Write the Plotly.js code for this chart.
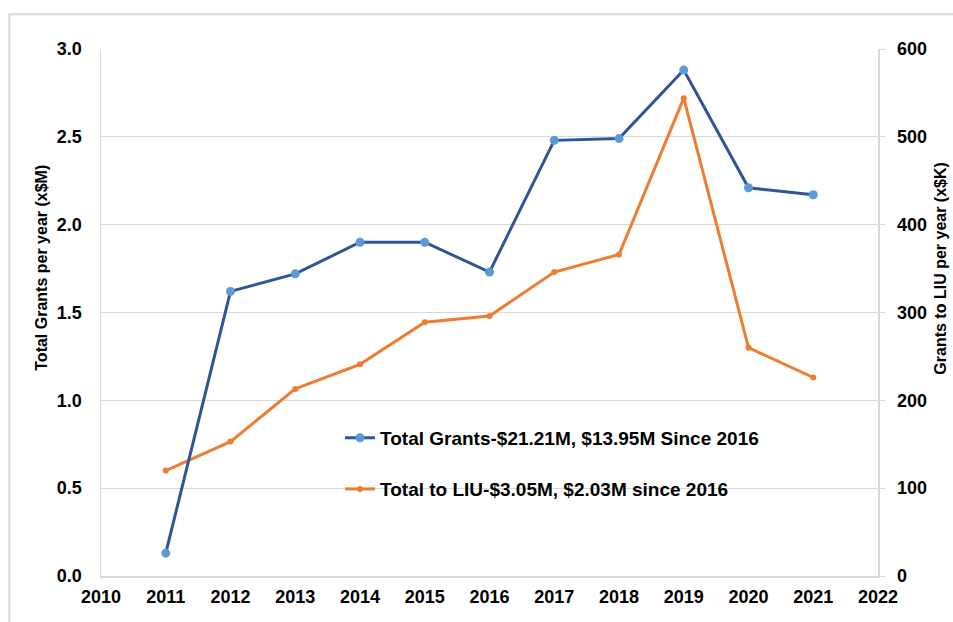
<!DOCTYPE html>
<html>
<head>
<meta charset="utf-8">
<script src="https://cdn.plot.ly/plotly-3.0.1.min.js"></script>
<style>
html,body{margin:0;padding:0;background:#fff;}
#chart{width:953px;height:622px;}
</style>
</head>
<body>
<div id="chart"></div>
<script>
const years = [2011, 2012, 2013, 2014, 2015, 2016, 2017, 2018, 2019, 2020, 2021];
const totalGrants = [0.13, 1.62, 1.72, 1.90, 1.90, 1.73, 2.48, 2.49, 2.88, 2.21, 2.17];
const grantsLIU = [120, 153, 213, 241, 289, 296, 346, 366, 544, 260, 226];
const xTicks = [2010, 2011, 2012, 2013, 2014, 2015, 2016, 2017, 2018, 2019, 2020, 2021, 2022];
const leftTicks = [0, 0.5, 1.0, 1.5, 2.0, 2.5, 3.0];
const leftTickText = ['0.0', '0.5', '1.0', '1.5', '2.0', '2.5', '3.0'];
const rightTicks = [0, 100, 200, 300, 400, 500, 600];
const nameGrants = 'Total Grants-$21.21M, $13.95M Since 2016';
const nameLIU = 'Total to LIU-$3.05M, $2.03M since 2016';
const leftTitle = 'Total Grants per year (x$M)';
const rightTitle = 'Grants to LIU per year (x$K)';

const FONT = 'Arial, "Liberation Sans", sans-serif';
const bold = (size) => ({family: FONT, size: size, color: '#000', weight: 'bold'});

const traces = [
  {
    x: years, y: grantsLIU, name: nameLIU, type: 'scatter', mode: 'lines+markers',
    yaxis: 'y', legend: 'legend2',
    line: {color: '#ED7D31', width: 3},
    marker: {color: '#ED7D31', size: 6}
  },
  {
    x: years, y: totalGrants, name: nameGrants, type: 'scatter', mode: 'lines+markers',
    yaxis: 'y2', legend: 'legend',
    line: {color: '#2F5597', width: 3},
    marker: {color: '#5B9BD5', size: 9}
  }
];

const layout = {
  width: 953, height: 622,
  margin: {l: 101, r: 75, t: 49, b: 46},
  paper_bgcolor: '#fff', plot_bgcolor: '#fff',
  showlegend: true,
  hovermode: false,
  xaxis: {
    range: [2010, 2022], tickvals: xTicks, ticktext: xTicks.map(String),
    showgrid: false, zeroline: false,
    showline: true, linecolor: '#d9d9d9', linewidth: 1.5,
    ticks: '', ticklabelstandoff: 4,
    tickfont: bold(18)
  },
  yaxis: {
    side: 'right', range: [0, 600], tickvals: rightTicks, ticktext: rightTicks.map(String),
    showgrid: true, gridcolor: '#d9d9d9', gridwidth: 1,
    zeroline: false, showline: true, linecolor: '#d9d9d9', linewidth: 1.5,
    ticks: 'outside', ticklen: 6, tickcolor: '#d9d9d9', tickwidth: 1,
    ticklabelstandoff: 8,
    tickfont: bold(18)
  },
  yaxis2: {
    side: 'left', overlaying: 'y', range: [0, 3], tickvals: leftTicks, ticktext: leftTickText,
    showgrid: false, zeroline: false, showline: true, linecolor: '#d9d9d9', linewidth: 1.5,
    ticks: '', ticklabelstandoff: 14,
    tickfont: bold(18)
  },
  legend: {
    x: 0.3076, y: 0.262, xanchor: 'left', yanchor: 'middle',
    bgcolor: 'rgba(0,0,0,0)', font: bold(19), itemwidth: 30
  },
  legend2: {
    x: 0.3076, y: 0.165, xanchor: 'left', yanchor: 'middle',
    bgcolor: 'rgba(0,0,0,0)', font: bold(19), itemwidth: 30
  },
  annotations: [
    {text: leftTitle, xref: 'paper', yref: 'paper', x: -0.0759, y: 0.585,
     xanchor: 'center', yanchor: 'middle', textangle: -90, showarrow: false, font: bold(16)},
    {text: rightTitle, xref: 'paper', yref: 'paper', x: 1.081, y: 0.585,
     xanchor: 'center', yanchor: 'middle', textangle: -90, showarrow: false, font: bold(16)}
  ],
  shapes: [
    {type: 'rect', xref: 'paper', yref: 'paper', x0: -0.118, x1: 2, y0: -1, y1: 1.066,
     line: {color: '#d9d9d9', width: 2}, fillcolor: 'rgba(0,0,0,0)', layer: 'below'}
  ]
};

Plotly.newPlot('chart', traces, layout, {displayModeBar: false, staticPlot: true});
</script>
</body>
</html>
